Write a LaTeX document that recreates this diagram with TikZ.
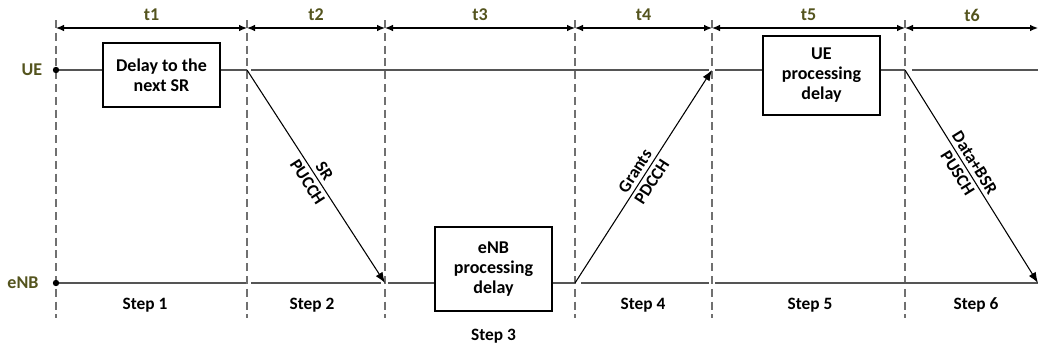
\documentclass[tikz,border=0pt]{standalone}
\usepackage{fontspec}
\setmainfont{Carlito}
\usetikzlibrary{arrows.meta}

\begin{document}
\begin{tikzpicture}[x=0.75pt,y=0.75pt,yscale=-1,xscale=1,
  divider/.style={color={rgb, 255:red, 112; green, 112; blue, 112 }, line width=1.1pt, dash pattern=on 6pt off 3.6pt},
  timeline/.style={color={rgb, 255:red, 85; green, 85; blue, 85 }, line width=1.4pt},
  span/.style={line width=0.9pt, {Latex[length=6pt,width=5pt]}-{Latex[length=6pt,width=5pt]}},
  msg/.style={line width=0.8pt, -{Latex[length=8pt,width=6pt]}},
  delaybox/.style={draw, line width=1.1pt, fill=white, align=center, inner sep=2pt, minimum width=87.75pt, font=\fontsize{13.5}{15}\selectfont\bfseries},
  msglabel/.style={align=center, inner sep=1pt, font=\fontsize{13}{15}\selectfont\bfseries},
  tlabel/.style={color={rgb, 255:red, 84; green, 84; blue, 30 }, font=\fontsize{13.5}{15}\selectfont\bfseries},
  steplabel/.style={font=\fontsize{13}{15}\selectfont\bfseries}
]
\useasboundingbox (0,0) rectangle (1040,347);

%Dashed Lines
\draw [divider] (56,20) -- (56,318) ;
\draw [divider] (247,20) -- (247,318) ;
\draw [divider] (385,20) -- (385,318) ;
\draw [divider] (575,20) -- (575,318) ;
\draw [divider] (712,20) -- (712,318) ;
\draw [divider] (905,20) -- (905,318) ;

%Span Arrows
\draw [span] (56,28) -- (247,28) ;
\draw [span] (247,28) -- (385,28) ;
\draw [span] (385,28) -- (575,28) ;
\draw [span] (575,28) -- (712,28) ;
\draw [span] (712,28) -- (905,28) ;
\draw [span] (905,28) -- (1038,28) ;

% Text Node
\node [tlabel] (t1) at (151.5,15) {t1};
\node [tlabel] (t2) at (316,15) {t2};
\node [tlabel] (t3) at (480,15) {t3};
\node [tlabel] (t4) at (643.5,15) {t4};
\node [tlabel] (t5) at (808.5,15) {t5};
\node [tlabel] (t6) at (972,15) {t6};

% Text Node
\node [tlabel] (ue) at (32,70) {UE};
\node [tlabel] (enb) at (23,283) {eNB};

%Boxes
\node [delaybox, minimum height=48pt] (nextsr) at (161.5,75) {Delay to the\\next SR};
\node [delaybox, minimum height=59.25pt] (ueproc) at (821.5,75.5) {UE\\processing\\delay};
\node [delaybox, minimum height=63pt] (enbproc) at (493.5,269) {eNB\\processing\\delay};

%Message Ends
\coordinate (srtx) at (247,70);
\coordinate (srrx) at (385,283);
\coordinate (granttx) at (575,283);
\coordinate (grantrx) at (712,70);
\coordinate (datatx) at (905,70);
\coordinate (datarx) at (1038,283);

%Straight Lines
\draw [timeline] (56,70) -- (nextsr.west |- srtx) (nextsr.east |- srtx) -- (srtx) (251,70) -- (709,70) (715,70) -- (ueproc.west |- srtx) (ueproc.east |- srtx) -- (datatx) (912,70) -- (1038,70) ;
\draw [timeline] (56,283) -- (246,283) (251,283) -- (381,283) (388,283) -- (enbproc.west |- srrx) (enbproc.east |- srrx) -- (granttx) (581,283) -- (709,283) (715,283) -- (1038,283) ;
\fill (56,70) circle (3.2) ;
\fill (56,283) circle (3.2) ;

%Messages
\draw [msg] (srtx) -- (srrx) node [midway, rotate=-57.1, msglabel] {SR\\PUCCH};
\draw [msg] (granttx) -- (grantrx) node [midway, rotate=57.2, msglabel] {Grants\\PDCCH};
\draw [msg] (datatx) -- (datarx) node [pos=0.46, rotate=-58, msglabel] {Data+BSR\\PUSCH};

% Text Node
\node [steplabel] (step1) at (145,305) {Step 1};
\node [steplabel] (step2) at (312,305) {Step 2};
\node [steplabel] (step3) at (493.5,336) {Step 3};
\node [steplabel] (step4) at (643,305) {Step 4};
\node [steplabel] (step5) at (810,305) {Step 5};
\node [steplabel] (step6) at (976,305) {Step 6};

\end{tikzpicture}
\end{document}
